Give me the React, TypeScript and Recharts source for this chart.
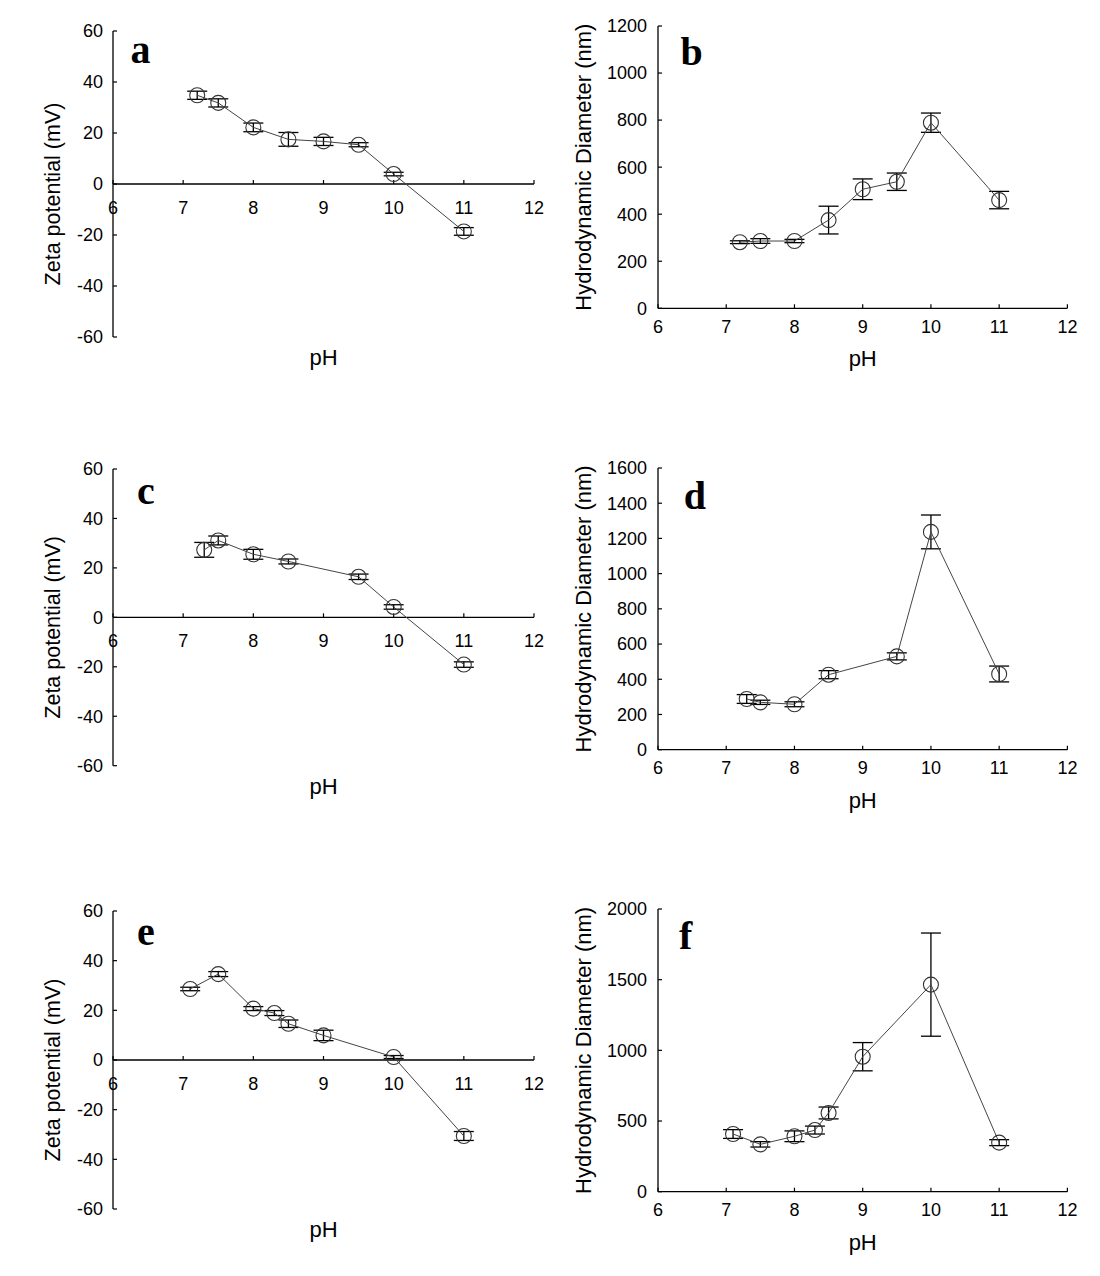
import React from 'react';
import { LineChart, Line, XAxis, YAxis, ErrorBar, ReferenceLine, ReferenceDot, Customized } from 'recharts';

// ---------- data ----------
const phTicks = [6, 7, 8, 9, 10, 11, 12];
const zetaTicks = [-60, -40, -20, 0, 20, 40, 60];
const diamTicksB = [0, 200, 400, 600, 800, 1000, 1200];
const diamTicksD = [0, 200, 400, 600, 800, 1000, 1200, 1400, 1600];
const diamTicksF = [0, 500, 1000, 1500, 2000];

const phA = [7.2, 7.5, 8, 8.5, 9, 9.5, 10, 11];
const zetaA = [34.8, 31.8, 22.2, 17.5, 16.7, 15.4, 3.9, -18.6];
const zetaErrA = [1.6, 1.6, 1.7, 2.7, 1.6, 0.8, 0.7, 1.5];

const phB = [7.2, 7.5, 8, 8.5, 9, 9.5, 10, 11];
const diamB = [281, 286, 286, 375, 506, 538, 789, 460];
const diamErrB = [6, 10, 7, 59, 44, 37, 41, 37];

const phC = [7.3, 7.5, 8, 8.5, 9.5, 10, 11];
const zetaC = [27.3, 31.1, 25.5, 22.6, 16.4, 4.2, -19.1];
const zetaErrC = [3, 1.8, 2, 1, 1.1, 0.9, 1.1];

const phD = [7.3, 7.5, 8, 8.5, 9.5, 10, 11];
const diamD = [288, 269, 258, 426, 530, 1237, 430];
const diamErrD = [25, 12, 14, 23, 20, 96, 45];

const phE = [7.1, 7.5, 8, 8.3, 8.5, 9, 10, 11];
const zetaE = [28.6, 34.6, 20.7, 18.9, 14.6, 9.9, 1.2, -30.6];
const zetaErrE = [0.7, 1, 0.8, 1, 1.5, 2.1, 0.6, 1.8];

const phF = [7.1, 7.5, 8, 8.3, 8.5, 9, 10, 11];
const diamF = [408, 335, 392, 436, 557, 955, 1465, 347];
const diamErrF = [31, 19, 38, 28, 42, 100, 365, 21];

const zetaTitle = 'Zeta potential (mV)';
const diamTitle = 'Hydrodynamic Diameter (nm)';
const xTitle = 'pH';

const rows = (xs: number[], ys: number[], es: number[]) =>
  xs.map((x, i) => ({ ph: x, v: ys[i], err: es[i] }));

// ---------- layout ----------
const SANS = "'Liberation Sans', Arial, Helvetica, sans-serif";
const SERIF = "'Liberation Serif', 'Times New Roman', serif";
const YW = 95;
const PADT = 30;
const PADR = 20;
const XH = 70;

type Spec = {
  kind: 'zeta' | 'diam';
  left: number;
  top: number;
  width: number;
  height: number;
  letter: string;
  ldx: number;
  ldy: number;
  data: { ph: number; v: number; err: number }[];
  yDomain: [number, number];
  yTicks: number[];
  rightTicks?: boolean;
};

const specs: Spec[] = [
  { kind: 'zeta', left: 113.3, top: 30.7, width: 421, height: 306, letter: 'a', ldx: 17.5, ldy: 32.3, data: rows(phA, zetaA, zetaErrA), yDomain: [-60, 60], yTicks: zetaTicks },
  { kind: 'diam', left: 658.3, top: 26, width: 409.4, height: 282.3, letter: 'b', ldx: 22.5, ldy: 39, data: rows(phB, diamB, diamErrB), yDomain: [0, 1200], yTicks: diamTicksB },
  { kind: 'zeta', left: 113.3, top: 469.3, width: 421, height: 296.7, letter: 'c', ldx: 24, ldy: 34.7, data: rows(phC, zetaC, zetaErrC), yDomain: [-60, 60], yTicks: zetaTicks },
  { kind: 'diam', left: 658.3, top: 468.3, width: 409.4, height: 281.7, letter: 'd', ldx: 25.7, ldy: 40.7, data: rows(phD, diamD, diamErrD), yDomain: [0, 1600], yTicks: diamTicksD, rightTicks: true },
  { kind: 'zeta', left: 113.3, top: 911, width: 421, height: 298, letter: 'e', ldx: 24, ldy: 34, data: rows(phE, zetaE, zetaErrE), yDomain: [-60, 60], yTicks: zetaTicks },
  { kind: 'diam', left: 658.3, top: 909.3, width: 409.4, height: 282.7, letter: 'f', ldx: 21, ldy: 39.7, data: rows(phF, diamF, diamErrF), yDomain: [0, 2000], yTicks: diamTicksF },
];

const tickStyle = (fs: number) => ({ fill: '#000', fontSize: fs, fontFamily: SANS });

function Panel({ s }: { s: Spec }) {
  const chartW = YW + s.width + PADR;
  const chartH = PADT + s.height + XH;
  const zeta = s.kind === 'zeta';
  const titleX = YW + (zeta ? -61 : -75);
  const titleY = PADT + s.height / 2 + (zeta ? 10 : 0);
  const phY = PADT + s.height + (zeta ? 28 : 58);
  const fs = 18;

  const Overlay = () => (
    <g>
      <text
        x={titleX}
        y={titleY}
        dy="0.35em"
        textAnchor="middle"
        transform={`rotate(-90, ${titleX}, ${titleY})`}
        fontFamily={SANS}
        fontSize={zeta ? 21.5 : 22}
        fill="#000"
      >
        {zeta ? zetaTitle : diamTitle}
      </text>
      <text x={YW + s.width / 2} y={phY} textAnchor="middle" fontFamily={SANS} fontSize={22} fill="#000">
        {xTitle}
      </text>
      <text x={YW + s.ldx} y={PADT + s.ldy} fontFamily={SERIF} fontWeight="bold" fontSize={40} fill="#000">
        {s.letter}
      </text>
    </g>
  );

  return (
    <div style={{ position: 'absolute', left: s.left - YW, top: s.top - PADT }}>
      <LineChart width={chartW} height={chartH} data={s.data} margin={{ top: PADT, right: PADR, bottom: 0, left: 0 }}>
        {zeta ? (
          <XAxis dataKey="ph" type="number" domain={[6, 12]} ticks={phTicks} height={XH} axisLine={false} tickLine={false} tick={false} />
        ) : (
          <XAxis
            dataKey="ph"
            type="number"
            domain={[6, 12]}
            ticks={phTicks}
            interval={0}
            height={XH}
            axisLine={{ stroke: '#000', strokeWidth: 1.3 }}
            tickLine={{ stroke: '#000', strokeWidth: 1.2 }}
            tickSize={-4}
            tickMargin={16}
            tick={tickStyle(fs)}
          />
        )}
        {!zeta && (
          <XAxis xAxisId="top" orientation="top" type="number" domain={[6, 12]} height={0} axisLine={{ stroke: '#000', strokeWidth: 1.3 }} tickLine={false} tick={false} />
        )}
        <YAxis
          type="number"
          domain={s.yDomain}
          ticks={s.yTicks}
          interval={0}
          width={YW}
          axisLine={{ stroke: '#000', strokeWidth: 1.3 }}
          tickLine={{ stroke: '#000', strokeWidth: 1.2 }}
          tickSize={-4}
          tickMargin={zeta ? 14 : 15}
          tick={tickStyle(fs)}
        />
        {!zeta && (
          <YAxis
            yAxisId="right"
            orientation="right"
            type="number"
            domain={s.yDomain}
            ticks={s.yTicks}
            interval={0}
            width={0}
            axisLine={{ stroke: '#000', strokeWidth: 1.3 }}
            tickLine={s.rightTicks ? { stroke: '#000', strokeWidth: 1.2 } : false}
            tickSize={-4}
            tick={s.rightTicks ? () => <g /> : false}
          />
        )}
        {zeta && <ReferenceLine y={0} stroke="#000" strokeWidth={1.3} />}
        {zeta &&
          phTicks.map((t) => (
            <ReferenceDot
              key={t}
              x={t}
              y={0}
              r={0}
              shape={(p: any) => (
                <g>
                  <line x1={p.cx} y1={p.cy} x2={p.cx} y2={p.cy - 4} stroke="#000" strokeWidth={1.2} />
                  <text x={p.cx} y={p.cy + 17} dy="0.71em" textAnchor="middle" fontFamily={SANS} fontSize={fs} fill="#000">
                    {t}
                  </text>
                </g>
              )}
            />
          ))}
        <Line
          dataKey="v"
          type="linear"
          stroke="#444"
          strokeWidth={1}
          dot={{ r: 7.5, fill: 'none', stroke: '#333', strokeWidth: 1.1 }}
          activeDot={false}
          isAnimationActive={false}
        >
          <ErrorBar dataKey="err" width={10} stroke="#000" strokeWidth={1.3} direction="y" />
        </Line>
        <Customized component={Overlay} />
      </LineChart>
    </div>
  );
}

export default function App() {
  return (
    <div style={{ position: 'absolute', left: 0, top: 0, width: 1100, height: 1276, background: '#fff' }}>
      {specs.map((s) => (
        <Panel key={s.letter} s={s} />
      ))}
    </div>
  );
}
